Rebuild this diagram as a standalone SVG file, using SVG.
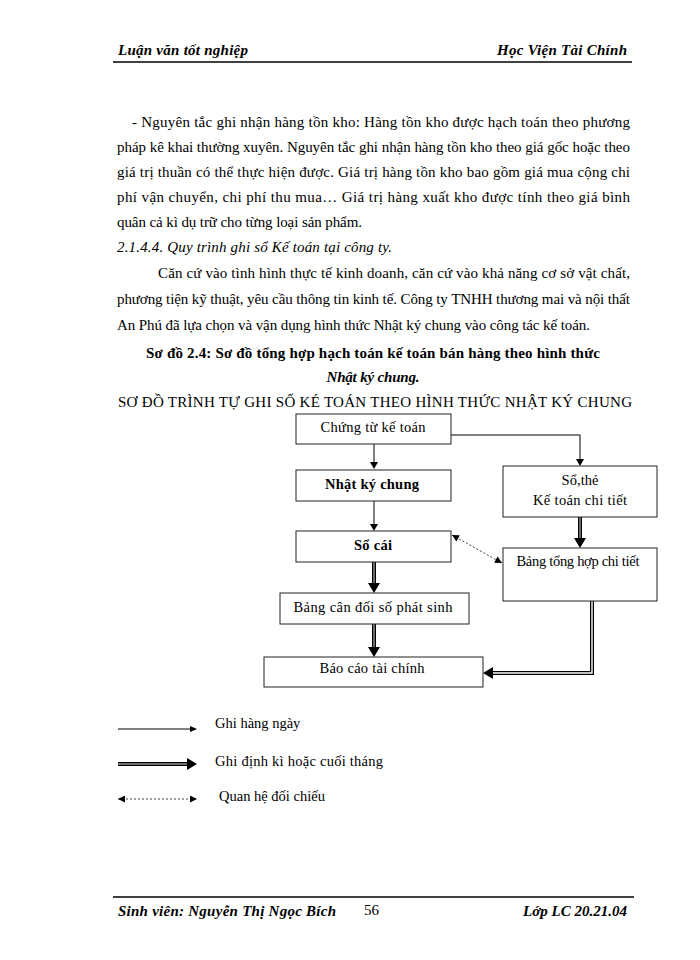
<svg xmlns="http://www.w3.org/2000/svg" width="700" height="960" viewBox="0 0 700 960">
<style>
text{font-family:"Liberation Serif","Times New Roman",serif;fill:#000}
.b{font-size:15px}
.hd{font-size:15px;font-weight:bold;font-style:italic}
.n{font-size:14.5px;text-anchor:middle}
.nb{font-size:14.5px;text-anchor:middle;font-weight:bold}
.box{fill:#fff;stroke:#222;stroke-width:1}
.thin{stroke:#000;stroke-width:1;fill:none}
.thk{stroke:#000;stroke-width:4;fill:none}
.thki{stroke:#999;stroke-width:1.4;fill:none}
.dot{stroke:#444;stroke-width:1;stroke-dasharray:2,2;fill:none}
.lg{font-size:14.5px}
</style>
<defs>
<marker id="da" viewBox="0 0 10 10" refX="10" refY="5" markerWidth="8" markerHeight="7" markerUnits="userSpaceOnUse" orient="auto-start-reverse"><path d="M0,0 L10,5 L0,10z" fill="#000"/></marker>
</defs>
<rect width="700" height="960" fill="#fff"/>
<!-- header -->
<text class="hd" x="118" y="55" textLength="130" lengthAdjust="spacing">Luận văn tốt nghiệp</text>
<text class="hd" x="497" y="55" textLength="130" lengthAdjust="spacing">Học Viện Tài Chính</text>
<line x1="113" y1="62" x2="632" y2="62" stroke="#000" stroke-width="1.5"/>
<!-- body -->
<text class="b" x="132" y="127" textLength="498" lengthAdjust="spacing">- Nguyên tắc ghi nhận hàng tồn kho: Hàng tồn kho được hạch toán theo phương</text>
<text class="b" x="117" y="152" textLength="513" lengthAdjust="spacing">pháp kê khai thường xuyên. Nguyên tắc ghi nhận hàng tồn kho theo giá gốc hoặc theo</text>
<text class="b" x="117" y="177" textLength="513" lengthAdjust="spacing">giá trị thuần có thể thực hiện được. Giá trị hàng tồn kho bao gồm giá mua cộng chi</text>
<text class="b" x="117" y="202" textLength="513" lengthAdjust="spacing">phí vận chuyển, chi phí thu mua… Giá trị hàng xuất kho được tính theo giá bình</text>
<text class="b" x="117" y="227" textLength="245" lengthAdjust="spacing">quân cả kì dụ trữ cho từng loại sản phẩm.</text>
<text class="b" x="117" y="252" font-style="italic" textLength="275" lengthAdjust="spacing">2.1.4.4. Quy trình ghi sổ Kế toán tại công ty.</text>
<text class="b" x="158" y="278" textLength="472" lengthAdjust="spacing">Căn cứ vào tình hình thực tế  kinh doanh, căn cứ vào khả năng cơ sở vật chất,</text>
<text class="b" x="117" y="304" textLength="513" lengthAdjust="spacing">phương tiện kỹ thuật, yêu cầu thông tin kinh tế. Công ty TNHH thương mai và nội thất</text>
<text class="b" x="117" y="330" textLength="473" lengthAdjust="spacing">An Phú đã lựa chọn và vận dụng hình thức Nhật ký chung vào công tác kế toán.</text>
<text class="b" x="146" y="358" font-weight="bold" textLength="454" lengthAdjust="spacing">Sơ đồ 2.4: Sơ đồ tổng hợp hạch toán kế toán bán hàng theo hình thức</text>
<text class="b" x="373" y="382" font-weight="bold" font-style="italic" text-anchor="middle" textLength="93" lengthAdjust="spacing">Nhật ký chung.</text>
<text class="b" x="118" y="407" textLength="514" lengthAdjust="spacing">SƠ ĐỒ TRÌNH  TỰ GHI SỐ KÉ TOÁN  THEO  HÌNH  THỨC  NHẬT  KÝ  CHUNG</text>
<!-- connectors -->
<g id="connectors">
<line class="thin" x1="374" y1="444" x2="374" y2="463"/>
<path d="M370,462 L378,462 L374,469z"/>
<polyline class="thin" points="451,435 580,435 580,460"/>
<path d="M576,459 L584,459 L580,466z"/>
<line class="thin" x1="374" y1="501" x2="374" y2="525"/>
<path d="M370,524 L378,524 L374,531z"/>
<line class="thk" x1="580" y1="517" x2="580" y2="539"/>
<line class="thki" x1="580" y1="517" x2="580" y2="539"/>
<path d="M574,538 L586,538 L580,548z"/>
<line class="dot" x1="452" y1="535" x2="502" y2="563" marker-start="url(#da)" marker-end="url(#da)"/>
<line class="thk" x1="374" y1="562" x2="374" y2="584"/>
<line class="thki" x1="374" y1="562" x2="374" y2="584"/>
<path d="M368,583 L380,583 L374,593z"/>
<line class="thk" x1="374" y1="624" x2="374" y2="648"/>
<line class="thki" x1="374" y1="624" x2="374" y2="648"/>
<path d="M368,647 L380,647 L374,657z"/>
<polyline class="thk" points="592,601 592,673 492,673"/>
<polyline points="592,601 592,673 492,673" stroke="#fff" stroke-width="1.4" fill="none"/>
<path d="M493,667 L493,679 L483,673z"/>
</g>
<!-- nodes -->
<g id="n1"><rect class="box" x="296" y="414" width="155" height="30"/><text class="n" x="373" y="432" textLength="105" lengthAdjust="spacing">Chứng từ kế toán</text></g>
<g id="n2"><rect class="box" x="296" y="470" width="155" height="31"/><text class="nb" x="372" y="489" textLength="94" lengthAdjust="spacing">Nhật ký chung</text></g>
<g id="n3"><rect class="box" x="296" y="531" width="155" height="31"/><text class="nb" x="373" y="550" textLength="38" lengthAdjust="spacing">Sổ cái</text></g>
<g id="n4"><rect class="box" x="503" y="466" width="154" height="51"/><text class="n" x="580" y="485" textLength="37" lengthAdjust="spacing">Sổ,thẻ</text><text class="n" x="580" y="505" textLength="94" lengthAdjust="spacing">Kế toán chi tiết</text></g>
<g id="n5"><rect class="box" x="503" y="548" width="154" height="53"/><text class="n" x="578" y="566" textLength="123" lengthAdjust="spacing">Bảng tổng hợp chi tiết</text></g>
<g id="n6"><rect class="box" x="280" y="593" width="189" height="31"/><text class="n" x="373" y="612" textLength="159" lengthAdjust="spacing">Bảng cân đối số phát sinh</text></g>
<g id="n7"><rect class="box" x="264" y="657" width="219" height="30"/><text class="n" x="372" y="673" textLength="105" lengthAdjust="spacing">Báo cáo tài chính</text></g>
<!-- legend -->
<g id="legend">
<line class="thin" x1="118" y1="729" x2="191" y2="729"/>
<path d="M190,726 L190,732 L197,729z"/>
<text class="lg" x="215" y="728">Ghi hàng ngày</text>
<line class="thk" x1="118" y1="764" x2="188" y2="764"/>
<line class="thki" x1="118" y1="764" x2="188" y2="764"/>
<path d="M187,758 L187,770 L197,764z"/>
<text class="lg" x="215" y="766" textLength="168" lengthAdjust="spacing">Ghi định kì hoặc cuối tháng</text>
<line class="dot" x1="118" y1="799" x2="197" y2="799" marker-start="url(#da)" marker-end="url(#da)"/>
<text class="lg" x="219" y="801">Quan hệ đối chiếu</text>
</g>
<!-- footer -->
<line x1="113" y1="897" x2="634" y2="897" stroke="#000" stroke-width="1.5"/>
<text class="hd" x="118" y="916" textLength="218" lengthAdjust="spacing">Sinh viên: Nguyễn Thị Ngọc Bích</text>
<text class="b" x="364" y="915">56</text>
<text class="hd" x="627" y="916" text-anchor="end">Lớp LC 20.21.04</text>
</svg>
